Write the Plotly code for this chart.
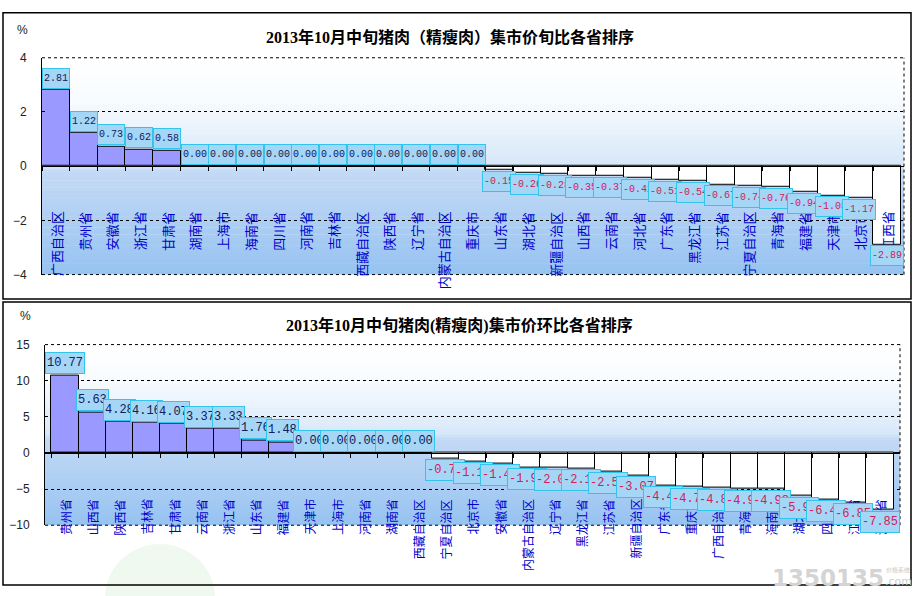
import plotly.graph_objects as go
import numpy as np

# ---------------- data ----------------
provinces_xun = ['广西自治区', '贵州省', '安徽省', '浙江省', '甘肃省', '湖南省', '上海市', '海南省',
                 '四川省', '河南省', '吉林省', '西藏自治区', '陕西省', '辽宁省', '内蒙古自治区', '重庆市',
                 '山东省', '湖北省', '新疆自治区', '山西省', '云南省', '河北省', '广东省', '黑龙江省',
                 '江苏省', '宁夏自治区', '青海省', '福建省', '天津市', '北京市', '江西省']
values_xun = [2.81, 1.22, 0.73, 0.62, 0.58, 0.00, 0.00, 0.00, 0.00, 0.00, 0.00, 0.00, 0.00, 0.00, 0.00, 0.00,
              -0.15, -0.26, -0.28, -0.35, -0.37, -0.42, -0.51, -0.54, -0.67, -0.74, -0.76, -0.94, -1.08,
              -1.17, -2.89]

provinces_huan = ['贵州省', '山西省', '陕西省', '吉林省', '甘肃省', '云南省', '浙江省', '山东省', '福建省',
                  '天津市', '上海市', '河南省', '湖南省', '西藏自治区', '宁夏自治区', '北京市', '安徽省',
                  '内蒙古自治区', '辽宁省', '黑龙江省', '江苏省', '新疆自治区', '广东省', '重庆市', '广西自治区',
                  '青海省', '海南省', '湖北省', '四川省', '江西省', '河北省']
values_huan = [10.77, 5.63, 4.28, 4.16, 4.07, 3.37, 3.33, 1.76, 1.48, 0.00, 0.00, 0.00, 0.00, 0.00,
               -0.74, -1.17, -1.42, -1.96, -2.05, -2.14, -2.52, -3.07, -4.45, -4.70, -4.85, -4.92, -4.98,
               -5.90, -6.40, -6.85, -7.85]

title_xun = '2013年10月中旬猪肉（精瘦肉）集市价旬比各省排序'
title_huan = '2013年10月中旬猪肉(精瘦肉)集市价环比各省排序'
yticks_xun = [-4, -2, 0, 2, 4]
yticks_huan = [-10, -5, 0, 5, 10, 15]

# ---------------- layout geometry ----------------
W, H = 917, 596
def px_x(p): return p / W
def px_y(p): return 1 - p / H

dom_x1 = [px_x(42), px_x(904)]
dom_y1 = [px_y(274), px_y(52)]
dom_x2 = [px_x(45), px_x(900)]
dom_y2 = [px_y(530.7), px_y(345.7)]
range1 = [-4, 4]
range2 = [-10, 15]
zero1 = dom_y1[0] + (0 - range1[0]) / (range1[1] - range1[0]) * (dom_y1[1] - dom_y1[0])
zero2 = dom_y2[0] + (0 - range2[0]) / (range2[1] - range2[0]) * (dom_y2[1] - dom_y2[0])

POS = '#9999ff'
fig = go.Figure()

def add_bars(cats, vals, xa, ya):
    fig.add_trace(go.Bar(
        x=cats, y=vals, xaxis=xa, yaxis=ya,
        marker=dict(color=[POS if v > 0 else 'white' for v in vals],
                    line=dict(color='black', width=1)),
        hoverinfo='x+y', showlegend=False))

add_bars(provinces_xun, values_xun, 'x', 'y')
add_bars(provinces_huan, values_huan, 'x2', 'y2')

annotations = []
shapes = []

# gradient backgrounds
stops = [(0.0, (255, 255, 255)), (0.2, (248, 251, 254)), (0.5, (214, 231, 249)),
         (0.52, (196, 218, 245)), (1.0, (150, 195, 241))]
def grad(t):
    for (t0, c0), (t1, c1) in zip(stops[:-1], stops[1:]):
        if t0 <= t <= t1:
            f = (t - t0) / (t1 - t0) if t1 > t0 else 0
            return 'rgb(%d,%d,%d)' % tuple(int(round(a + (b - a) * f)) for a, b in zip(c0, c1))
    return 'rgb(150,195,241)'

N = 60
for xs, ys in [('x', 'y'), ('x2', 'y2')]:
    for k in range(N):
        t = (k + 0.5) / N
        shapes.append(dict(type='rect', xref=xs + ' domain', yref=ys + ' domain',
                           x0=0, x1=1, y0=1 - (k + 1) / N, y1=1 - k / N + 0.002,
                           fillcolor=grad(t), line=dict(width=0), layer='below'))
    dot = dict(color='black', width=1, dash='dot')
    shapes.append(dict(type='line', xref=xs + ' domain', yref=ys + ' domain',
                       x0=1, x1=1, y0=0, y1=1, line=dot))
    shapes.append(dict(type='line', xref=xs + ' domain', yref=ys + ' domain',
                       x0=0, x1=1, y0=1, y1=1, line=dot))
    shapes.append(dict(type='line', xref=xs + ' domain', yref=ys + ' domain',
                       x0=0, x1=1, y0=0, y1=0, line=dot))

# faint watermark logo
shapes.append(dict(type='circle', xref='paper', yref='paper',
                   x0=px_x(105), x1=px_x(215), y0=px_y(660), y1=px_y(550),
                   fillcolor='rgba(200,232,200,0.28)', line=dict(width=0), layer='below'))

# panel borders
shapes.append(dict(type='rect', xref='paper', yref='paper', x0=px_x(3), x1=px_x(911),
                   y0=px_y(299), y1=px_y(6), line=dict(color='black', width=1.5)))
shapes.append(dict(type='rect', xref='paper', yref='paper', x0=px_x(3), x1=px_x(911),
                   y0=px_y(592), y1=px_y(302), line=dict(color='black', width=1.5)))

def add_labels(cats, vals, xs, ys, cat_y, cat_size, val_size, box_h):
    for c in cats:
        annotations.append(dict(x=c, y=cat_y, xref=xs, yref=ys, text=c, textangle=-90,
                                showarrow=False, xanchor='center', yanchor='top',
                                font=dict(family='Noto Sans CJK SC', size=cat_size, color='#0000cc')))
    for c, v in zip(cats, vals):
        neg = v < 0
        annotations.append(dict(x=c, y=v, xref=xs, yref=ys, text='%.2f' % v, showarrow=False,
                                xanchor='center', yanchor='top' if neg else 'bottom',
                                yshift=-1 if neg else 1, height=box_h,
                                bgcolor='#a6d6f6', bordercolor='#33c4ee', borderwidth=1, borderpad=1,
                                font=dict(family='Liberation Mono', size=val_size,
                                          color='#d0205a' if neg else '#10205a')))

add_labels(provinces_xun, values_xun, 'x', 'y', -1.6, 13, 10, 17)
add_labels(provinces_huan, values_huan, 'x2', 'y2', -6.1, 12, 12, 18)

tfont = dict(family='Liberation Serif, Noto Sans CJK SC', size=16, color='black')
annotations.append(dict(x=px_x(450), y=px_y(31), xref='paper', yref='paper', text='<b>%s</b>' % title_xun,
                        showarrow=False, xanchor='center', yanchor='middle', font=tfont))
annotations.append(dict(x=px_x(459), y=px_y(326), xref='paper', yref='paper', text='<b>%s</b>' % title_huan,
                        showarrow=False, xanchor='center', yanchor='middle', font=tfont))
pfont = dict(family='Liberation Sans', size=12, color='#222')
annotations.append(dict(x=px_x(22), y=px_y(24), xref='paper', yref='paper', text='%', showarrow=False,
                        xanchor='center', yanchor='middle', font=pfont))
annotations.append(dict(x=px_x(25), y=px_y(316), xref='paper', yref='paper', text='%', showarrow=False,
                        xanchor='center', yanchor='middle', font=pfont))
annotations.append(dict(x=px_x(828), y=px_y(585), xref='paper', yref='paper', text='<b>1350135</b>',
                        showarrow=False, xanchor='center', yanchor='middle',
                        font=dict(family='DejaVu Sans', size=23, color='#d4d4d4')))
annotations.append(dict(x=px_x(898), y=px_y(588), xref='paper', yref='paper', text='.com',
                        showarrow=False, xanchor='center', yanchor='middle',
                        font=dict(family='DejaVu Sans', size=11, color='#cfcfcf')))
annotations.append(dict(x=px_x(898), y=px_y(576), xref='paper', yref='paper', text='价格系统',
                        showarrow=False, xanchor='center', yanchor='middle',
                        font=dict(family='Noto Sans CJK SC', size=6, color='#c8c8c8')))

def xaxis_cfg(dom, pos):
    return dict(domain=dom, anchor='free', position=pos, type='category', showline=True,
                linecolor='black', linewidth=1, ticks='outside', tickson='boundaries', ticklen=4,
                tickcolor='black', showticklabels=False, showgrid=False, fixedrange=True)

def yaxis_cfg(dom, rng, tv, xa):
    return dict(domain=dom, range=rng, anchor=xa, tickvals=tv, showgrid=True, gridcolor='black',
                griddash='dot', gridwidth=1, zeroline=True, zerolinecolor='black', zerolinewidth=1,
                showline=True, linecolor='black', linewidth=1, ticks='inside', ticklen=3,
                tickcolor='black', ticklabelstandoff=12,
                tickfont=dict(family='Liberation Sans', size=12, color='#222'), fixedrange=True)

fig.update_layout(
    width=W, height=H, margin=dict(l=0, r=0, t=0, b=0),
    paper_bgcolor='white', plot_bgcolor='rgba(0,0,0,0)',
    bargap=0, showlegend=False,
    xaxis=xaxis_cfg(dom_x1, zero1), yaxis=yaxis_cfg(dom_y1, range1, yticks_xun, 'x'),
    xaxis2=xaxis_cfg(dom_x2, zero2), yaxis2=yaxis_cfg(dom_y2, range2, yticks_huan, 'x2'),
    annotations=annotations, shapes=shapes,
)

fig.write_html('out.html', config={'displayModeBar': False},
               post_script="document.body.style.margin='0';document.body.style.overflow='hidden';")
